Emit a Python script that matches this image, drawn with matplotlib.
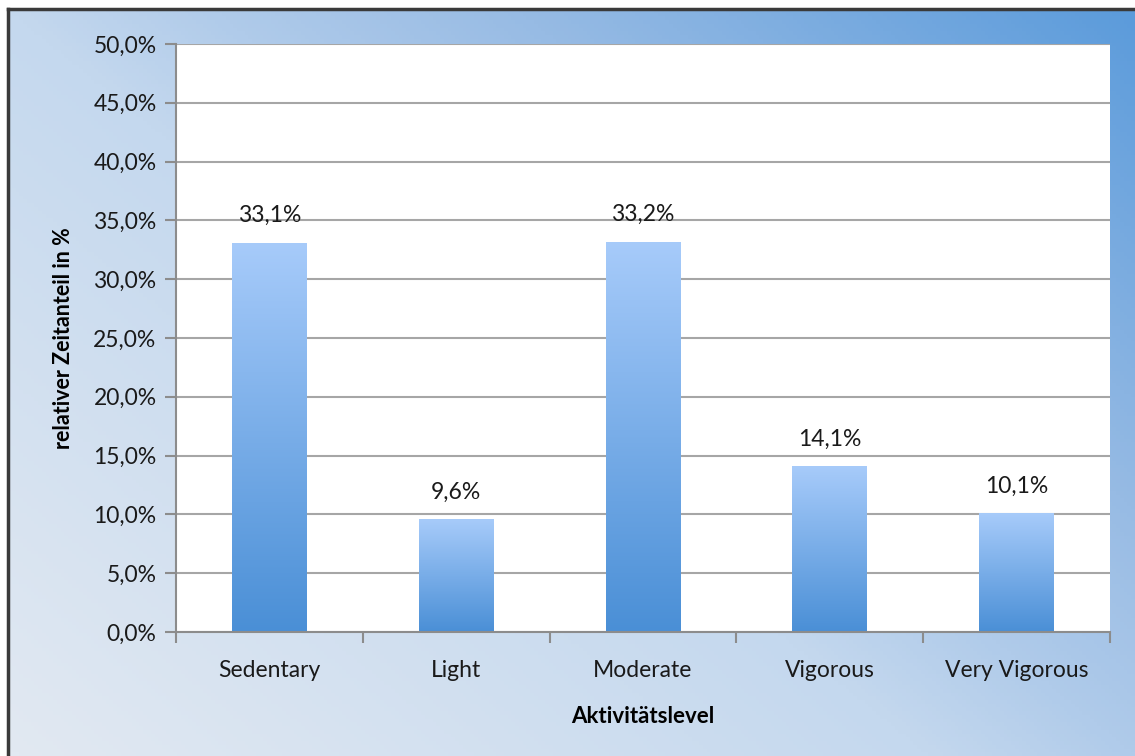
import numpy as np
import matplotlib.pyplot as plt
from matplotlib.colors import LinearSegmentedColormap

plt.rcParams['font.family'] = ['Lato', 'DejaVu Sans']

categories = ["Sedentary", "Light", "Moderate", "Vigorous", "Very Vigorous"]
values = [33.1, 9.6, 33.2, 14.1, 10.1]
yticks = [0, 5, 10, 15, 20, 25, 30, 35, 40, 45, 50]

W, H = 1135, 756
fig = plt.figure(figsize=(W / 100, H / 100), dpi=100)
fig.patch.set_facecolor("white")

# background panel with diagonal gradient
bg = fig.add_axes([8 / W, 0, 1 - 8 / W, 1 - 9 / H])
bg.set_axis_off()
gx, gy = np.meshgrid(np.linspace(0, 1, 300), np.linspace(0, 1, 200))
t = np.clip(gx * 0.55 + gy * 0.45, 0, 1)
bg_cmap = LinearSegmentedColormap.from_list(
    "bg", [(0, "#e2e9f2"), (0.45, "#c4d8ee"), (0.55, "#b0cbea"),
           (0.7, "#97bbe4"), (1, "#5b9bdb")])
bg.imshow(t, cmap=bg_cmap, origin="lower", aspect="auto", extent=[0, 1, 0, 1])
bg.plot([0, 0], [0, 1], color="#3a3a3a", lw=2.5, transform=bg.transAxes, clip_on=False)
bg.plot([0, 1], [1, 1], color="#3a3a3a", lw=2.5, transform=bg.transAxes, clip_on=False)
bg.set_xlim(0, 1)
bg.set_ylim(0, 1)

ax = fig.add_axes([176 / W, 1 - 632 / H, (1110 - 176) / W, (632 - 44) / H])
ax.set_facecolor("white")
x = np.arange(len(categories))
bars = ax.bar(x, values, width=0.4, color="none", zorder=3)

bar_cmap = LinearSegmentedColormap.from_list("bar", ["#4a8fd6", "#a7cbfa"])
grad = np.linspace(0, 1, 256).reshape(-1, 1)
for b, v in zip(bars, values):
    x0, w, h = b.get_x(), b.get_width(), b.get_height()
    im = ax.imshow(grad, cmap=bar_cmap, origin="lower", aspect="auto",
                   extent=[x0, x0 + w, 0, h], zorder=3)
    im.set_clip_path(b)
    ax.text(b.get_x() + w / 2, h + 2.3, f"{v:.1f}%".replace(".", ","),
            ha="center", va="center", fontsize=16.5, color="#1a1a1a", zorder=4)

ax.set_xlim(-0.5, len(categories) - 0.5)
ax.set_ylim(0, 50)
ax.set_yticks(yticks)
ax.set_yticklabels([f"{v:.1f}%".replace(".", ",") for v in yticks], fontsize=16.5, color="#1a1a1a")
ax.set_xticks(x)
ax.set_xticklabels(categories, fontsize=16.5, color="#1a1a1a")
ax.set_xticks(np.arange(len(categories) + 1) - 0.5, minor=True)
ax.tick_params(axis="x", which="major", length=0, pad=20)
ax.tick_params(axis="x", which="minor", length=8, color="#8c8c8c", width=1.5)
ax.tick_params(axis="y", length=8, color="#8c8c8c", width=1.5, pad=6)
ax.grid(axis="y", color="#a6a6a6", lw=1.5, zorder=1)

for s in ["top", "right"]:
    ax.spines[s].set_visible(False)
for s in ["left", "bottom"]:
    ax.spines[s].set_color("#8c8c8c")
    ax.spines[s].set_linewidth(1.5)
    ax.spines[s].set_zorder(5)

ax.set_xlabel("Aktivitätslevel", fontsize=16, fontweight="bold", labelpad=18)
ax.set_ylabel("relativer Zeitanteil in %", fontsize=15.5, fontweight="bold", labelpad=14)

fig.savefig("out.png", dpi=100)
